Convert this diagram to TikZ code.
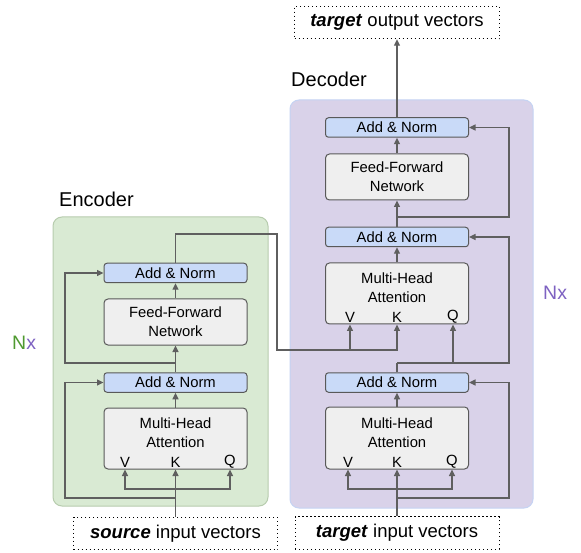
\documentclass[tikz,border=0pt]{standalone}
\usepackage{fontspec}
\setmainfont{Liberation Sans}
\usetikzlibrary{arrows.meta}
\definecolor{encfill}{HTML}{D9EAD3}
\definecolor{encedge}{HTML}{B7CCAE}
\definecolor{decfill}{HTML}{D9D2E9}
\definecolor{decedge}{HTML}{C5D3F3}
\definecolor{anfill}{HTML}{C9DAF8}
\definecolor{boxfill}{HTML}{EFEFEF}
\definecolor{edgec}{HTML}{595959}
\definecolor{wirec}{HTML}{5F5F5F}
\definecolor{ngreen}{HTML}{4F9A30}
\definecolor{npurple}{HTML}{7E62C2}
\begin{document}
\begin{tikzpicture}[x=1pt,y=-1pt,
  container/.style={rounded corners=9pt, line width=1pt},
  boxtext/.style={font=\fontsize{14.8}{19}\selectfont, text=black},
  addnorm/.style={draw=edgec, fill=anfill, rounded corners=3pt, line width=1pt,
    minimum width=143pt, minimum height=19.5pt, inner sep=0pt, boxtext},
  graybox/.style={draw=edgec, fill=boxfill, rounded corners=4pt, line width=1pt,
    minimum width=143pt, inner sep=0pt, boxtext, align=center},
  lbl/.style={inner sep=0pt, boxtext},
  iobox/.style={draw=black, line width=1pt, dash pattern=on 1.2pt off 2.8pt,
    minimum width=204pt, minimum height=32.5pt, inner sep=0pt,
    font=\fontsize{18.5}{22}\selectfont},
  title/.style={inner sep=0pt, anchor=west, font=\fontsize{20}{24}\selectfont},
  nx/.style={inner sep=0pt, anchor=west, font=\fontsize{19.5}{24}\selectfont},
  wire/.style={draw=wirec, line width=1.3pt},
  arr/.style={wire, -{Triangle[length=6.5pt,width=6pt]}}
]
\fill[white] (0,0) rectangle (581,553);
\useasboundingbox (0,0) rectangle (581,553);

% containers
\draw[container, fill=encfill, draw=encedge] (53,217) rectangle (268,506);
\draw[container, fill=decfill, draw=decedge] (290,100) rectangle (533,508);

% titles
\node[title] (encT) at (59,199) {Encoder};
\node[title] (decT) at (291,79) {Decoder};
\node[nx] (nxL) at (12,343) {\textcolor{ngreen}{N}\textcolor{npurple}{x}};
\node[nx] (nxR) at (543,293) {\textcolor{npurple}{Nx}};

% ---------- Encoder ----------
\node[addnorm] (eAN2) at (175.5,273) {Add \& Norm};
\node[graybox, minimum height=46pt] (eFFN) at (175.5,322) {Feed-Forward\\Network};
\node[addnorm] (eAN1) at (175.5,382.5) {Add \& Norm};
\node[graybox, minimum height=61pt] (eMHA) at (175.5,438.5) {};
\node[lbl, align=center] (eMHAt) at (175.5,433) {Multi-Head\\Attention};
\node[lbl] (eV) at (125,462) {V};
\node[lbl] (eK) at (175.5,462) {K};
\node[lbl] (eQ) at (230,462) {Q};
\node[iobox] (src) at (175.5,533.5) {\textbf{\textit{source}} input vectors};

\coordinate (eSplit) at (175.5,489);
\coordinate (eRes1) at (175.5,498);
\coordinate (eL1) at (65,498);
\coordinate (eRes2) at (175.5,363);
\coordinate (eL2) at (65,363);

\draw[arr] (src.north) -- (eMHA.south);
\draw[arr] (eSplit) -| (eMHA.south -| eV);
\draw[arr] (eSplit) -| (eMHA.south -| eQ);
\draw[arr] (eRes1) -- (eL1) |- (eAN1.west);
\draw[arr] (eMHA.north) -- (eAN1.south);
\draw[arr] (eAN1.north) -- (eFFN.south);
\draw[arr] (eRes2) -- (eL2) |- (eAN2.west);
\draw[arr] (eFFN.north) -- (eAN2.south);

% ---------- Decoder ----------
\node[addnorm] (dAN3) at (397,127.5) {Add \& Norm};
\node[graybox, minimum height=46pt] (dFFN) at (397,177) {Feed-Forward\\Network};
\node[addnorm] (dAN2) at (397,237) {Add \& Norm};
\node[graybox, minimum height=61pt] (dMHA2) at (397,293.5) {};
\node[lbl, align=center] (dMHA2t) at (397,288) {Multi-Head\\Attention};
\node[lbl] (dV2) at (350,317) {V};
\node[lbl] (dK2) at (397,317) {K};
\node[lbl] (dQ2) at (453,317) {Q};
\node[addnorm] (dAN1) at (397,382.5) {Add \& Norm};
\node[graybox, minimum height=62pt] (dMHA1) at (397,438) {};
\node[lbl, align=center] (dMHA1t) at (397,432.5) {Multi-Head\\Attention};
\node[lbl] (dV1) at (348,462) {V};
\node[lbl] (dK1) at (397,462) {K};
\node[lbl] (dQ1) at (452,462) {Q};
\node[iobox] (tin) at (397,533) {\textbf{\textit{target}} input vectors};
\node[iobox, minimum width=205pt] (tout) at (397,22.5) {\textbf{\textit{target}} output vectors};

\coordinate (dSplit) at (397,489);
\coordinate (dRes1) at (397,498);
\coordinate (dR1) at (509,498);
\coordinate (dJ1) at (397,363);
\coordinate (dR2) at (509,363);
\coordinate (dJ2) at (397,217);
\coordinate (dR3) at (509,217);

\draw[arr] (tin.north) -- (dMHA1.south);
\draw[arr] (dSplit) -| (dMHA1.south -| dV1);
\draw[arr] (dSplit) -| (dMHA1.south -| dQ1);
\draw[arr] (dRes1) -- (dR1) |- (dAN1.east);
\draw[arr] (dMHA1.north) -- (dAN1.south);
\draw[wire] (dAN1.north) -- (dJ1);
\draw[arr] (dJ1) -- (dR2) |- (dAN2.east);
\draw[arr] (dJ1) -| (dMHA2.south -| dQ2);
\draw[arr] (dMHA2.north) -- (dAN2.south);
\draw[arr] (dAN2.north) -- (dFFN.south);
\draw[arr] (dJ2) -- (dR3) |- (dAN3.east);
\draw[arr] (dFFN.north) -- (dAN3.south);
\draw[arr] (dAN3.north) -- (tout.south);

% encoder output to decoder cross-attention
\coordinate (eUp) at (175.5,234);
\coordinate (eRt) at (277,234);
\coordinate (eDn) at (277,350);
\coordinate (dVj) at (350,350);
\draw[wire] (eAN2.north) -- (eUp) -- (eRt) -- (eDn) -- (dVj);
\draw[arr] (dVj) -- (dMHA2.south -| dV2);
\draw[arr] (dVj) -| (dMHA2.south -| dK2);
\end{tikzpicture}
\end{document}
